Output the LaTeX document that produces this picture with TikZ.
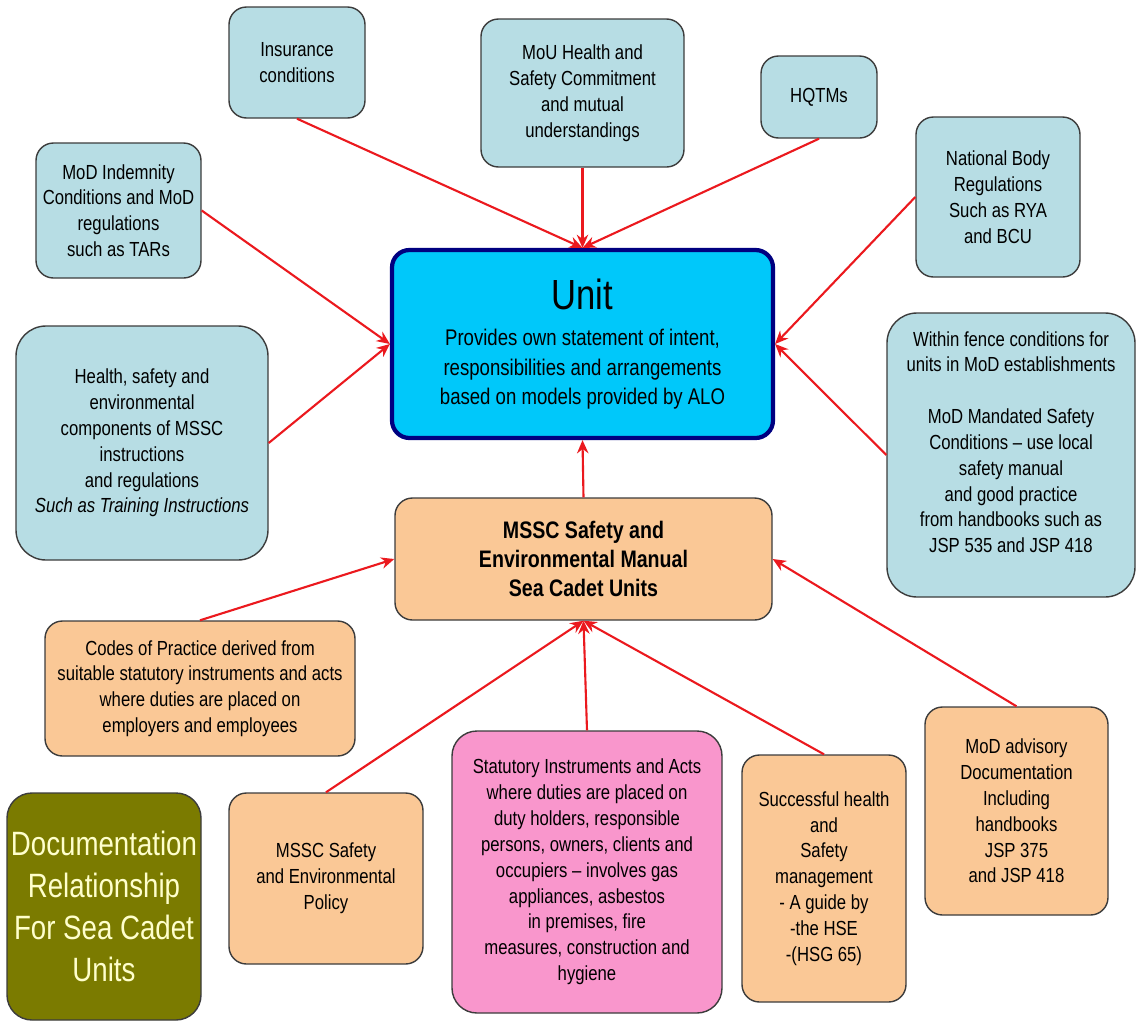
\documentclass[tikz,border=0pt]{standalone}
\usepackage{fontspec}
\setmainfont{Liberation Sans}[FakeStretch=0.82]
\usetikzlibrary{arrows.meta}
\definecolor{paleblue}{RGB}{183,221,228}
\definecolor{peach}{RGB}{250,200,150}
\definecolor{rosepink}{RGB}{249,150,204}
\definecolor{olivebox}{RGB}{123,123,0}
\definecolor{creamtext}{RGB}{255,255,204}
\definecolor{unitcyan}{RGB}{0,200,250}
\definecolor{unitnavy}{RGB}{0,0,128}
\definecolor{linkred}{RGB}{235,25,30}
\definecolor{edgegrey}{RGB}{60,60,60}

\begin{document}
\begin{tikzpicture}[x=0.02cm,y=-0.02cm,
    boxsize/.style 2 args={minimum width=#1*0.02cm,minimum height=#2*0.02cm},
    docbox/.style={draw=edgegrey,line width=0.8pt,rounded corners=0.35cm,align=center,inner sep=0pt,
        font=\fontsize{11.6}{14.7}\selectfont},
    bluebox/.style={docbox,fill=paleblue},
    peachbox/.style={docbox,fill=peach},
    link/.style={linkred,line width=1.2pt,-{Stealth[length=7.5pt,width=6.5pt]}}]
    \useasboundingbox (0,0) rectangle (1137,1022);

    \node[docbox,draw=unitnavy,line width=2.4pt,fill=unitcyan,boxsize={381}{188},
        font=\fontsize{12.9}{16.7}\selectfont] (unit) at (582.5,344)
        {\fontsize{24}{26}\selectfont Unit\\[4pt]
         \fontsize{12.9}{16.7}\selectfont Provides own statement of intent,\\
          responsibilities and arrangements\\
          based on models provided by ALO};
    \node[peachbox,boxsize={377}{122},font=\fontsize{13.6}{16.4}\selectfont\bfseries] (manual) at (583.5,559)
        {MSSC Safety and\\Environmental Manual\\Sea Cadet Units};

    \node[bluebox,boxsize={136}{111}] (insur) at (297,62.5) {Insurance\\conditions};
    \node[bluebox,boxsize={203}{148}] (mou) at (582.5,93)
        {MoU Health and\\Safety Commitment\\and mutual\\understandings};
    \node[bluebox,boxsize={116}{82}] (hqtm) at (819,97) {HQTMs};
    \node[bluebox,boxsize={164}{160}] (natbody) at (998,197)
        {National Body\\Regulations\\Such as RYA\\and BCU};
    \node[bluebox,boxsize={165}{135}] (indem) at (118.5,210.5)
        {MoD Indemnity\\Conditions and MoD\\regulations\\such as TARs};
    \node[bluebox,rounded corners=0.6cm,boxsize={252}{234}] (health) at (142,443)
        {Health, safety and\\environmental\\components of MSSC\\instructions\\and regulations\\\itshape Such as Training Instructions};
    \node[bluebox,rounded corners=0.6cm,boxsize={248}{284}] (fence) at (1011,455)
        {Within fence conditions for\\units in MoD establishments\\[14.7pt]
         MoD Mandated Safety\\Conditions -- use local\\safety manual\\and good practice\\from handbooks such as\\JSP 535 and JSP 418\\};

    \node[peachbox,boxsize={310}{135}] (codes) at (200,688.5)
        {Codes of Practice derived from\\suitable statutory instruments and acts\\where duties are placed on\\employers and employees};
    \node[docbox,fill=olivebox,text=creamtext,rounded corners=0.5cm,boxsize={194}{227},
        font=\fontsize{19.2}{23.8}\selectfont] (title) at (104,906.5)
        {Documentation\\Relationship\\For Sea Cadet\\Units};
    \node[peachbox,boxsize={194}{171}] (policy) at (326,878.5)
        {MSSC Safety\\and Environmental\\Policy};
    \node[docbox,fill=rosepink,rounded corners=0.5cm,boxsize={270}{282}] (statute) at (587,872)
        {Statutory Instruments and Acts\\where duties are placed on\\duty holders, responsible\\persons, owners, clients and\\occupiers -- involves gas\\appliances, asbestos\\in premises, fire\\measures, construction and\\hygiene};
    \node[peachbox,boxsize={164}{247}] (hsg) at (824,878.5)
        {Successful health\\and\\Safety\\management\\- A guide by\\-the HSE\\-(HSG 65)};
    \node[peachbox,boxsize={183}{208}] (advise) at (1016.5,811)
        {MoD advisory\\Documentation\\Including\\handbooks\\JSP 375\\and JSP 418};

    \draw[link] (insur.south) -- (unit.north);
    \draw[link] (mou.south) -- (unit.north);
    \draw[link] (hqtm.south) -- (unit.north);
    \draw[link] (indem.east) -- (unit.west);
    \draw[link] (health.east) -- (unit.west);
    \draw[link] (natbody.west) -- (unit.east);
    \draw[link] (fence.west) -- (unit.east);
    \draw[link] (manual.north) -- (unit.south);

    \draw[link] (codes.north) -- (manual.west);
    \draw[link] (policy.north) -- (manual.south);
    \draw[link] (statute.north) -- (manual.south);
    \draw[link] (hsg.north) -- (manual.south);
    \draw[link] (advise.north) -- (manual.east);
\end{tikzpicture}
\end{document}
